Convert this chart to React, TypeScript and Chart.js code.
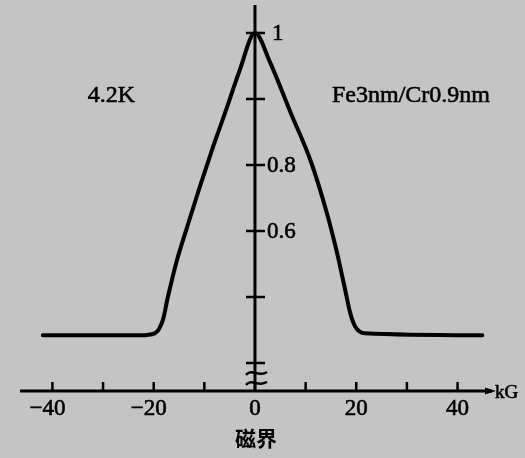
import React, { useEffect, useRef } from "react";
import { Chart, registerables } from "chart.js";

Chart.register(...registerables);

// Magnetic field (kG) and normalized resistance
const fieldKG = [-41.9, -22.7, -19.8, -18.2, -17.2, -15.4, -13.4, -10.9, -8.3, -5.5, -3.0, 0, 3.0, 7.0, 11.0, 14.2, 16.2, 17.8, 18.8, 19.8, 21.7, 44.9];
const resistance = [0.542, 0.542, 0.545, 0.565, 0.6, 0.656, 0.706, 0.767, 0.827, 0.888, 0.944, 1.0, 0.955, 0.88, 0.806, 0.727, 0.667, 0.611, 0.576, 0.555, 0.545, 0.542];

const xTickValues = [-40, -30, -20, -10, 0, 10, 20, 30, 40];
const xTickLabels = ["−40", "", "−20", "", "0", "", "20", "", "40"];
const yTickValues = [1, 0.9, 0.8, 0.7, 0.6, 0.5];
const yTickLabels = ["1", "", "0.8", "0.6", "", ""];
const breakValues = [0.485, 0.47];

const xUnit = "kG";
const xTitle = "磁界";
const tempLabel = "4.2K";
const sampleLabel = "Fe3nm/Cr0.9nm";

const X_MIN = -46.4;
const X_MAX = 46.8;
const Y_MIN = 0.4576;
const Y_MAX = 1.0424;

const SERIF = '"Liberation Serif", "DejaVu Serif", serif';

function boldText(ctx: any, text: string, x: number, y: number) {
  ctx.fillText(text, x, y);
  ctx.lineWidth = 0.6;
  ctx.strokeText(text, x, y);
}

const axesPlugin = {
  id: "customAxes",
  beforeDraw(chart: any) {
    const { ctx, width, height } = chart;
    ctx.save();
    ctx.fillStyle = "#c4c4c4";
    ctx.fillRect(0, 0, width, height);
    ctx.restore();
  },
  beforeDatasetsDraw(chart: any) {
    const { ctx, chartArea } = chart;
    const xs = chart.scales.x;
    const ys = chart.scales.y;
    const yb = chartArea.bottom;
    const x0 = xs.getPixelForValue(0);
    ctx.save();
    ctx.strokeStyle = "#000";
    ctx.fillStyle = "#000";
    ctx.lineCap = "butt";

    // x axis line
    ctx.lineWidth = 3;
    ctx.beginPath();
    ctx.moveTo(chartArea.left, yb);
    ctx.lineTo(chartArea.right, yb);
    ctx.stroke();
    // arrow head
    ctx.beginPath();
    ctx.moveTo(chartArea.right + 4, yb);
    ctx.lineTo(chartArea.right - 7, yb - 3.5);
    ctx.lineTo(chartArea.right - 7, yb + 3.5);
    ctx.closePath();
    ctx.fill();

    // x ticks
    ctx.lineWidth = 2.5;
    xTickValues.forEach((v) => {
      const px = xs.getPixelForValue(v);
      ctx.beginPath();
      ctx.moveTo(px, yb);
      ctx.lineTo(px, yb - 9);
      ctx.stroke();
    });

    // x tick labels
    ctx.font = `23px ${SERIF}`;
    ctx.textAlign = "center";
    ctx.textBaseline = "middle";
    xTickValues.forEach((v, i) => {
      const lbl = xTickLabels[i];
      if (!lbl) return;
      const px = xs.getPixelForValue(v);
      boldText(ctx, lbl, px - (lbl.startsWith("−") ? 5 : 0), yb + 18);
    });

    // unit
    ctx.font = `19px ${SERIF}`;
    ctx.textAlign = "left";
    boldText(ctx, xUnit, chartArea.right + 3, yb + 2);

    // x title
    ctx.font = `bold 21px "Noto Sans CJK JP", "Noto Sans CJK SC", sans-serif`;
    ctx.textAlign = "center";
    ctx.fillText(xTitle, x0 + 1, yb + 47);

    // y axis line
    ctx.lineWidth = 3;
    ctx.beginPath();
    ctx.moveTo(x0, chartArea.top);
    ctx.lineTo(x0, yb);
    ctx.stroke();

    // y ticks
    ctx.lineWidth = 2.5;
    yTickValues.forEach((v) => {
      const py = ys.getPixelForValue(v);
      ctx.beginPath();
      ctx.moveTo(x0 - 9, py);
      ctx.lineTo(x0 + 10, py);
      ctx.stroke();
    });

    // y tick labels
    ctx.font = `23px ${SERIF}`;
    ctx.textAlign = "left";
    ctx.textBaseline = "middle";
    yTickValues.forEach((v, i) => {
      const lbl = yTickLabels[i];
      if (!lbl) return;
      const py = ys.getPixelForValue(v);
      boldText(ctx, lbl, x0 + (lbl === "1" ? 17 : 12), py + 1);
    });

    // axis break marks
    ctx.lineWidth = 2.5;
    breakValues.forEach((v) => {
      const py = ys.getPixelForValue(v);
      ctx.beginPath();
      ctx.moveTo(x0 - 9, py + 2);
      ctx.bezierCurveTo(x0 - 3, py - 5, x0 + 4, py + 5, x0 + 12, py - 1);
      ctx.stroke();
    });

    ctx.restore();
  },
  afterDraw(chart: any) {
    const { ctx } = chart;
    const xs = chart.scales.x;
    const ys = chart.scales.y;
    ctx.save();
    ctx.fillStyle = "#000";
    ctx.strokeStyle = "#000";
    ctx.font = `24px ${SERIF}`;
    ctx.textAlign = "left";
    ctx.textBaseline = "alphabetic";
    boldText(ctx, tempLabel, xs.getPixelForValue(-33), ys.getPixelForValue(0.895));
    boldText(ctx, sampleLabel, xs.getPixelForValue(15.2), ys.getPixelForValue(0.895));
    ctx.restore();
  },
};

export default function App() {
  const canvasRef = useRef<HTMLCanvasElement | null>(null);

  useEffect(() => {
    if (!canvasRef.current) return;
    const data = fieldKG.map((x, i) => ({ x, y: resistance[i] }));
    const chart = new Chart(canvasRef.current, {
      type: "line",
      data: {
        datasets: [
          {
            data,
            borderColor: "#000",
            borderWidth: 4,
            pointRadius: 0,
            cubicInterpolationMode: "monotone",
            borderJoinStyle: "round",
            borderCapStyle: "round",
            fill: false,
          },
        ],
      },
      options: {
        animation: false,
        responsive: false,
        maintainAspectRatio: false,
        layout: { padding: { left: 20, top: 5, right: 33, bottom: 67 } },
        plugins: { legend: { display: false }, tooltip: { enabled: false }, title: { display: false } },
        scales: {
          x: { type: "linear", min: X_MIN, max: X_MAX, display: false },
          y: { type: "linear", min: Y_MIN, max: Y_MAX, display: false },
        },
      },
      plugins: [axesPlugin],
    });
    return () => chart.destroy();
  }, []);

  return (
    <div style={{ position: "fixed", left: 0, top: 0, width: 525, height: 458 }}>
      <canvas ref={canvasRef} width={525} height={458} style={{ width: 525, height: 458, display: "block" }} />
    </div>
  );
}
